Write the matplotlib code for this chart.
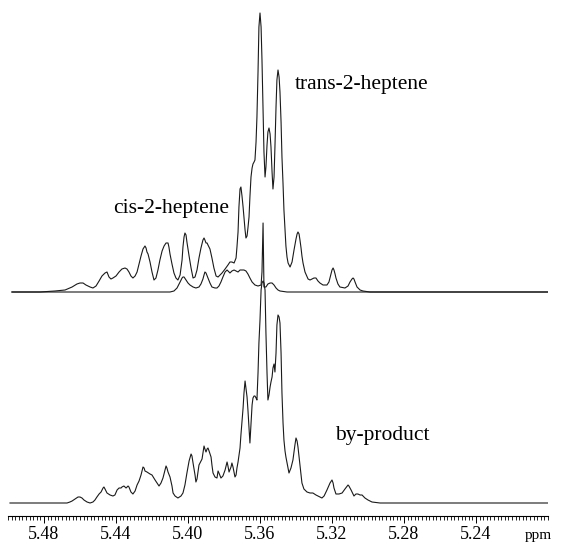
import numpy as np
import matplotlib
matplotlib.use("Agg")
import matplotlib.pyplot as plt
from matplotlib.ticker import FixedLocator, MultipleLocator

# 1H NMR, olefinic region. chemical shift (ppm) / intensity (arb. units)

# upper spectrum, main trace (cis + trans multiplets)
ppm_top = [5.4978, 5.4822, 5.4739, 5.4683, 5.4644, 5.4617, 5.4600, 5.4583, 5.4567, 5.4544,
           5.4528, 5.4511, 5.4494, 5.4478, 5.4461, 5.4450, 5.4439, 5.4428, 5.4417, 5.4400,
           5.4383, 5.4367, 5.4350, 5.4339, 5.4328, 5.4317, 5.4306, 5.4294, 5.4283, 5.4272,
           5.4261, 5.4250, 5.4239, 5.4233, 5.4228, 5.4222, 5.4211, 5.4200, 5.4189, 5.4178,
           5.4167, 5.4156, 5.4144, 5.4133, 5.4122, 5.4111, 5.4106, 5.4100, 5.4089, 5.4078,
           5.4067, 5.4056, 5.4044, 5.4033, 5.4028, 5.4022, 5.4017, 5.4011, 5.4006, 5.3994,
           5.3983, 5.3972, 5.3961, 5.3950, 5.3939, 5.3928, 5.3917, 5.3911, 5.3906, 5.3900,
           5.3894, 5.3889, 5.3878, 5.3867, 5.3856, 5.3844, 5.3833, 5.3822, 5.3811, 5.3794,
           5.3778, 5.3767, 5.3756, 5.3744, 5.3733, 5.3728, 5.3722, 5.3717, 5.3711, 5.3706,
           5.3700, 5.3694, 5.3683, 5.3678, 5.3672, 5.3667, 5.3661, 5.3656, 5.3650, 5.3644,
           5.3639, 5.3633, 5.3628, 5.3622, 5.3617, 5.3611, 5.3606, 5.3600, 5.3594, 5.3589,
           5.3583, 5.3578, 5.3572, 5.3567, 5.3561, 5.3556, 5.3550, 5.3544, 5.3539, 5.3533,
           5.3528, 5.3522, 5.3517, 5.3511, 5.3506, 5.3500, 5.3494, 5.3489, 5.3483, 5.3478,
           5.3472, 5.3467, 5.3461, 5.3456, 5.3450, 5.3444, 5.3433, 5.3422, 5.3411, 5.3400,
           5.3394, 5.3389, 5.3383, 5.3378, 5.3372, 5.3367, 5.3361, 5.3350, 5.3333, 5.3322,
           5.3311, 5.3300, 5.3289, 5.3278, 5.3267, 5.3250, 5.3228, 5.3217, 5.3206, 5.3200,
           5.3194, 5.3189, 5.3183, 5.3178, 5.3167, 5.3156, 5.3128, 5.3111, 5.3100, 5.3089,
           5.3083, 5.3078, 5.3072, 5.3061, 5.3044, 5.3028, 5.2989, 5.1989]
int_top = [0, 0, 1, 2, 5, 8, 9, 9, 7, 5,
           4, 6, 11, 16, 19, 20, 15, 13, 14, 16,
           20, 23, 24, 23, 20, 16, 14, 16, 20, 28,
           36, 43, 46, 44, 40, 38, 30, 20, 12, 14,
           22, 32, 41, 46, 49, 49, 45, 38, 28, 19,
           14, 12, 17, 32, 45, 55, 59, 57, 50, 36,
           24, 14, 15, 22, 34, 44, 52, 54, 52, 49,
           49, 47, 43, 34, 24, 16, 15, 17, 19, 23,
           27, 30, 30, 29, 34, 45, 60, 85, 103, 105,
           96, 85, 62, 54, 56, 64, 75, 95, 115, 124,
           128, 130, 132, 150, 175, 220, 265, 279, 265, 232,
           180, 140, 115, 125, 147, 160, 164, 158, 145, 120,
           103, 115, 145, 185, 212, 222, 215, 200, 170, 135,
           108, 82, 62, 46, 35, 29, 25, 30, 42, 53,
           58, 60, 58, 52, 44, 36, 29, 20, 13, 12,
           13, 14, 14, 11, 9, 7, 7, 10, 18, 22,
           24, 22, 18, 14, 8, 5, 4, 6, 10, 13,
           14, 13, 10, 5, 2, 1, 0, 0]

# upper spectrum, second trace
ppm_ref = [5.4978, 5.4100, 5.4078, 5.4061, 5.4044, 5.4033, 5.4028, 5.4022, 5.4011, 5.4000,
           5.3989, 5.3972, 5.3956, 5.3939, 5.3928, 5.3917, 5.3911, 5.3906, 5.3900, 5.3889,
           5.3878, 5.3867, 5.3850, 5.3839, 5.3828, 5.3817, 5.3806, 5.3794, 5.3783, 5.3772,
           5.3767, 5.3756, 5.3744, 5.3733, 5.3722, 5.3711, 5.3700, 5.3689, 5.3678, 5.3667,
           5.3656, 5.3644, 5.3628, 5.3611, 5.3594, 5.3589, 5.3583, 5.3578, 5.3567, 5.3556,
           5.3544, 5.3533, 5.3522, 5.3511, 5.3500, 5.3489, 5.3450, 5.1989]
int_ref = [0, 0, 1, 4, 10, 14, 15, 15, 12, 9,
           7, 5, 4, 5, 8, 13, 17, 20, 19, 14,
           9, 5, 4, 4, 6, 10, 15, 20, 22, 20,
           19, 21, 22, 21, 20, 22, 22, 22, 21, 18,
           14, 10, 7, 6, 7, 20, 69, 5, 5, 8,
           9, 9, 7, 4, 2, 1, 0, 0]

# lower spectrum (with by-product)
ppm_bp = [5.4989, 5.4822, 5.4672, 5.4656, 5.4644, 5.4628, 5.4611, 5.4600, 5.4589, 5.4578,
          5.4561, 5.4544, 5.4528, 5.4517, 5.4506, 5.4494, 5.4483, 5.4472, 5.4467, 5.4461,
          5.4450, 5.4433, 5.4417, 5.4406, 5.4394, 5.4383, 5.4372, 5.4367, 5.4356, 5.4350,
          5.4344, 5.4333, 5.4328, 5.4317, 5.4306, 5.4294, 5.4283, 5.4272, 5.4261, 5.4250,
          5.4244, 5.4239, 5.4228, 5.4211, 5.4200, 5.4183, 5.4172, 5.4161, 5.4150, 5.4139,
          5.4128, 5.4122, 5.4117, 5.4111, 5.4100, 5.4089, 5.4083, 5.4072, 5.4056, 5.4039,
          5.4028, 5.4017, 5.4006, 5.3994, 5.3983, 5.3978, 5.3972, 5.3961, 5.3956, 5.3950,
          5.3939, 5.3928, 5.3922, 5.3917, 5.3911, 5.3906, 5.3900, 5.3894, 5.3889, 5.3883,
          5.3872, 5.3867, 5.3861, 5.3850, 5.3839, 5.3833, 5.3828, 5.3817, 5.3806, 5.3794,
          5.3783, 5.3778, 5.3772, 5.3761, 5.3756, 5.3750, 5.3739, 5.3733, 5.3728, 5.3722,
          5.3711, 5.3706, 5.3694, 5.3689, 5.3683, 5.3678, 5.3672, 5.3667, 5.3661, 5.3656,
          5.3650, 5.3644, 5.3639, 5.3633, 5.3628, 5.3622, 5.3617, 5.3611, 5.3606, 5.3600,
          5.3594, 5.3589, 5.3583, 5.3578, 5.3572, 5.3567, 5.3561, 5.3556, 5.3550, 5.3544,
          5.3539, 5.3533, 5.3528, 5.3522, 5.3517, 5.3511, 5.3506, 5.3500, 5.3494, 5.3489,
          5.3483, 5.3478, 5.3472, 5.3467, 5.3461, 5.3456, 5.3444, 5.3439, 5.3428, 5.3417,
          5.3406, 5.3400, 5.3394, 5.3389, 5.3383, 5.3378, 5.3372, 5.3367, 5.3356, 5.3339,
          5.3322, 5.3306, 5.3289, 5.3278, 5.3267, 5.3256, 5.3244, 5.3228, 5.3211, 5.3200,
          5.3194, 5.3189, 5.3178, 5.3161, 5.3144, 5.3128, 5.3111, 5.3106, 5.3094, 5.3083,
          5.3078, 5.3067, 5.3056, 5.3044, 5.3033, 5.3017, 5.3000, 5.2978, 5.2933, 5.1989]
int_bp = [0, 0, 0, 1, 2, 4, 6, 6, 5, 3,
          1, 0, 1, 3, 6, 9, 11, 15, 16, 14,
          10, 8, 7, 8, 13, 15, 15, 16, 17, 16,
          15, 17, 16, 11, 9, 12, 18, 22, 28, 36,
          35, 32, 31, 29, 28, 23, 20, 17, 20, 25,
          33, 37, 35, 31, 26, 17, 10, 7, 5, 7,
          10, 18, 30, 42, 49, 47, 40, 28, 21, 24,
          38, 42, 44, 50, 57, 54, 51, 54, 55, 52,
          46, 38, 30, 26, 25, 32, 30, 25, 27, 33,
          41, 37, 31, 36, 40, 36, 26, 28, 35, 41,
          55, 68, 95, 110, 122, 115, 106, 93, 75, 60,
          80, 98, 105, 107, 107, 105, 103, 130, 160, 183,
          213, 220, 222, 220, 213, 170, 130, 103, 108, 116,
          121, 126, 135, 139, 131, 150, 178, 188, 186, 180,
          150, 110, 80, 63, 52, 46, 35, 30, 35, 43,
          58, 65, 62, 56, 46, 38, 28, 20, 14, 11,
          10, 10, 8, 7, 6, 5, 7, 13, 20, 23,
          20, 15, 9, 9, 10, 14, 18, 17, 13, 9,
          7, 9, 9, 8, 8, 5, 3, 1, 0, 0]

tick_ppm = [5.48, 5.44, 5.40, 5.36, 5.32, 5.28, 5.24]


def main():
    plt.rcParams['font.family'] = ['Liberation Serif', 'DejaVu Serif']

    fig = plt.figure(figsize=(5.62, 5.44), dpi=100)
    ax = fig.add_axes([8 / 562, 28 / 544, 540 / 562, 516 / 544])

    shift = 211  # vertical offset of the upper spectrum
    lc = '#1a1a1a'
    ax.plot(ppm_bp, int_bp, color=lc, lw=0.8)
    ax.plot(ppm_ref, np.array(int_ref) + shift, color=lc, lw=0.8)
    ax.plot(ppm_top, np.array(int_top) + shift, color=lc, lw=0.8)

    ax.set_xlim(5.50, 5.20)
    ax.set_ylim(-13, 503)

    for s in ['left', 'right', 'top']:
        ax.spines[s].set_visible(False)
    ax.spines['bottom'].set_linewidth(0.8)
    ax.set_yticks([])

    ax.xaxis.set_major_locator(FixedLocator(tick_ppm))
    ax.xaxis.set_minor_locator(MultipleLocator(0.002))
    ax.set_xticklabels(["%.2f" % t for t in tick_ppm])
    ax.tick_params(axis='x', which='major', direction='out', length=5,
                   width=0.7, labelsize=13, pad=2)
    ax.tick_params(axis='x', which='minor', direction='out', length=3, width=0.6)

    fig.text(538 / 562, 1 - 535 / 544, "ppm", ha='center', va='center', fontsize=11)

    fig.text(171 / 562, 1 - 213 / 544, "cis-2-heptene", ha='center',
             va='baseline', fontsize=15.5)
    fig.text(362 / 562, 1 - 89 / 544, "trans-2-heptene", ha='center',
             va='baseline', fontsize=15.5)
    fig.text(382 / 562, 1 - 440 / 544, "by-product", ha='center',
             va='baseline', fontsize=15.5)

    fig.savefig("out.png", dpi=100)


if __name__ == "__main__":
    main()
